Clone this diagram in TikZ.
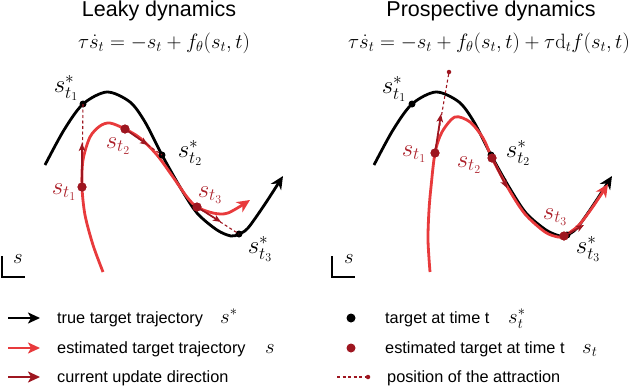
\documentclass[tikz,border=0pt]{standalone}
\usepackage[no-math]{fontspec}
\setmainfont{Liberation Sans}
\usetikzlibrary{arrows.meta,positioning}
\definecolor{estred}{RGB}{232,58,60}
\definecolor{updred}{RGB}{158,22,32}
\definecolor{labred}{RGB}{172,32,42}
\newcommand{\ttlfont}{\fontsize{21.5}{25}\selectfont}
\newcommand{\eqfont}{\fontsize{22}{26}\selectfont}
\newcommand{\mathsz}{\fontsize{23}{27}\selectfont}
\newcommand{\legfont}{\fontsize{16.3}{19}\selectfont}
\newcommand{\legmsz}{\fontsize{21.5}{25}\selectfont}
\tikzset{
  tgt/.style={line width=2.8pt,black},
  est/.style={line width=2.8pt,estred},
  endtip/.style={-{Stealth[length=13pt,width=12pt,inset=4pt]}},
  upd/.style={-{Stealth[length=8pt,width=6.5pt,inset=2pt]},line width=1.7pt,updred},
  attr/.style={updred,line width=1.1pt,dash pattern=on 3pt off 2.5pt},
  tdot/.style={circle,fill=black,inner sep=0pt,minimum size=7pt},
  edot/.style={circle,fill=updred,inner sep=0pt,minimum size=9pt},
  adot/.style={circle,fill=updred,inner sep=0pt,minimum size=4.5pt},
  tlab/.style={font=\mathsz,inner sep=0pt},
  elab/.style={font=\mathsz,text=labred,inner sep=0pt},
  ttl/.style={font=\ttlfont,inner sep=0pt,anchor=base},
  eqn/.style={font=\eqfont,inner sep=0pt,anchor=base},
  legtxt/.style={font=\legfont,inner sep=0pt,anchor=base west},
  legmath/.style={font=\legmsz,inner sep=0pt,anchor=base west},
  sbar/.style={line width=1.2pt}
}
\begin{document}
\begin{tikzpicture}[x=1pt,y=-1pt]
\useasboundingbox (0,0) rectangle (640,389);
% titles
\node[ttl] (ttlL) at (159,16) {Leaky dynamics};
\node[ttl] (ttlR) at (491,16) {Prospective dynamics};
\node[eqn] (eqL) at (164,48) {$\tau\dot{s}_t=-s_t+f_\theta(s_t,t)$};
\node[eqn] (eqR) at (489,48) {$\tau\dot{s}_t=-s_t+f_\theta(s_t,t)+\tau\mathrm{d}_tf(s_t,t)$};

% left panel
\draw[tgt,endtip] plot[smooth] coordinates {(45,165) (64,130) (83,104) (107,92) (130,102) (145,122) (162,155) (180,187) (197,213) (217,230) (231,236) (239,234) (248,228) (265,204) (283,176)};
\draw[est,endtip] plot[smooth] coordinates {(103,272) (93,245) (85,215) (82,187) (83,160) (90,137) (100,126) (110,123) (125,129) (140,138) (157,155) (173,177) (187,197) (197,207) (213,213) (228,213) (250,200)};
\node[tdot] (lT1) at (83,104) {};
\node[tdot] (lT2) at (162,155) {};
\node[tdot] (lT3) at (239,234) {};
\node[edot] (lE1) at (82,187) {};
\node[edot] (lE2) at (125,129) {};
\node[edot] (lE3) at (197,207) {};
\coordinate (lU1) at (82,143);
\coordinate (lU2) at (148,145);
\coordinate (lU3) at (221,222);
\draw[attr] (lT1.center) -- (lE1.center);
\draw[attr] (lE2.center) -- (lT2.center);
\draw[attr] (lE3.center) -- (lT3.center);
\draw[upd] (lE1.center) -- (lU1);
\draw[upd] (lE2.center) -- (lU2);
\draw[upd] (lE3.center) -- (lU3);
\node[edot] at (lE1) {};
\node[edot] at (lE2) {};
\node[edot] at (lE3) {};
\node[tlab] at (66,88) {$s^*_{t_1}$};
\node[tlab] at (190,153) {$s^*_{t_2}$};
\node[tlab] at (260,249) {$s^*_{t_3}$};
\node[elab] at (64,192) {$s_{t_1}$};
\node[elab] at (118,146) {$s_{t_2}$};
\node[elab] at (210,195) {$s_{t_3}$};
\draw[sbar] (2,256) -- (2,277) -- (25,277);
\node[legmath,anchor=center] (sL) at (18,259) {$s$};

% right panel
\draw[tgt,endtip] plot[smooth] coordinates {(374,165) (393,130) (412,104) (436,92) (459,102) (474,122) (491,155) (509,187) (526,213) (546,230) (560,236) (567,235) (577,228) (594,204) (612,176)};
\draw[est,endtip] plot[smooth] coordinates {(430,272) (428,240) (429,210) (431,187) (435,153) (442,132) (455,117) (470,122) (483,138) (492,158) (508,188) (525,214) (545,232) (558,237) (564,236) (578,226) (592,208) (608,184)};
\node[tdot] (rT1) at (412,104) {};
\node[tdot] (rT2) at (491,155) {};
\node[tdot] (rT3) at (567,235) {};
\node[edot] (rE1) at (435,153) {};
\node[edot] (rE2) at (492,158) {};
\node[edot] (rE3) at (564,236) {};
\node[adot] (rA1) at (449,72) {};
\coordinate (rU1) at (441,114);
\coordinate (rU2) at (507,188);
\coordinate (rU3) at (584,225);
\draw[attr] (rE1.center) -- (rA1.center);
\draw[upd] (rE1.center) -- (rU1);
\draw[upd] (rE2.center) -- (rU2);
\draw[upd] (rE3.center) -- (rU3);
\node[edot] at (rE1) {};
\node[edot] at (rE2) {};
\node[edot] at (rE3) {};
\node[tlab] at (394,89) {$s^*_{t_1}$};
\node[tlab] at (518,153) {$s^*_{t_2}$};
\node[tlab] at (588,249) {$s^*_{t_3}$};
\node[elab] at (414,154) {$s_{t_1}$};
\node[elab] at (469,165) {$s_{t_2}$};
\node[elab] at (555,217) {$s_{t_3}$};
\draw[sbar] (332,256) -- (332,277) -- (355,277);
\node[legmath,anchor=center] (sR) at (349,259) {$s$};

% legend
\coordinate (k1a) at (8,318);  \coordinate (k1b) at (40,318);
\coordinate (k2a) at (8,348);  \coordinate (k2b) at (40,348);
\coordinate (k3a) at (8,377);  \coordinate (k3b) at (40,377);
\draw[tgt,-{Stealth[length=12pt,width=11pt,inset=3pt]}] (k1a) -- (k1b);
\draw[est,-{Stealth[length=12pt,width=11pt,inset=3pt]}] (k2a) -- (k2b);
\draw[line width=2.8pt,updred,-{Stealth[length=12pt,width=11pt,inset=3pt]}] (k3a) -- (k3b);
\node[legtxt] (g1) at (57,323) {true target trajectory};
\node[legtxt] (g2) at (57,353) {estimated target trajectory};
\node[legtxt] (g3) at (57,382) {current update direction};
\node[legmath] at (220,323) {$s^*$};
\node[legmath] at (265,353) {$s$};
\node[tdot,minimum size=9pt] (kd1) at (351,318) {};
\node[edot] (kd2) at (351,348) {};
\coordinate (kd3) at (337,377);
\node[adot] (ka3) at (368,377) {};
\draw[attr] (kd3) -- (ka3.center);
\node[legtxt] (h1) at (385,323) {target at time t};
\node[legtxt] (h2) at (385,353) {estimated target at time t};
\node[legtxt] (h3) at (387,382) {position of the attraction};
\node[legmath] at (508,323) {$s^*_t$};
\node[legmath] at (582,353) {$s_t$};
\end{tikzpicture}
\end{document}
